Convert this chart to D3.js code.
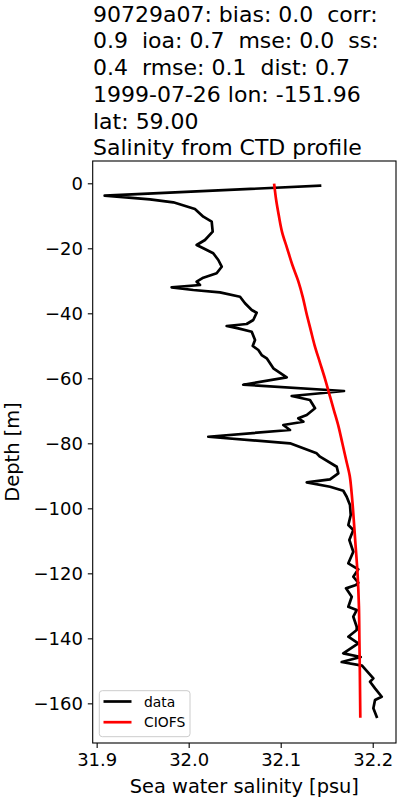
<!DOCTYPE html>
<html>
<head>
<meta charset="utf-8">
<script src="https://cdn.jsdelivr.net/npm/d3@7"></script>
<style>
  html, body { margin: 0; padding: 0; background: #fff; }
  svg { display: block; font-family: "DejaVu Sans", sans-serif; }
  text { white-space: pre; }
</style>
</head>
<body>
<div id="chart"></div>
<script>
// ---- data ----
const titleLines = [
  "90729a07: bias: 0.0  corr:",
  "0.9  ioa: 0.7  mse: 0.0  ss:",
  "0.4  rmse: 0.1  dist: 0.7",
  "1999-07-26 lon: -151.96",
  "lat: 59.00",
  "Salinity from CTD profile"
];
const xTicks = [31.9, 32.0, 32.1, 32.2];
const yTicks = [0, -20, -40, -60, -80, -100, -120, -140, -160];
const seriesNames = ["data", "CIOFS"];
const seriesColors = ["#000000", "#ff0000"];

// observed CTD profile: salinity and depth
const dataSalinity = [
  32.1427, 31.9087, 31.9579, 31.9833, 32.0068, 32.0159, 32.0250, 32.0261, 32.0177, 32.0087,
  32.0159, 32.0267, 32.0322, 32.0359, 32.0304, 32.0159, 32.0087, 32.0123, 31.9815, 32.0050,
  32.0340, 32.0558, 32.0612, 32.0685, 32.0739, 32.0702, 32.0630, 32.0413, 32.0539, 32.0685,
  32.0721, 32.0696, 32.0757, 32.0793, 32.0848, 32.0920, 32.1065, 32.0593, 32.1688, 32.1120,
  32.1318, 32.1373, 32.1283, 32.1191, 32.1246, 32.1028, 32.1101, 32.0213, 32.1101, 32.1391,
  32.1427, 32.1609, 32.1626, 32.1536, 32.1283, 32.1536, 32.1680, 32.1717, 32.1753, 32.1761,
  32.1735, 32.1789, 32.1746, 32.1789, 32.1735, 32.1843, 32.1789, 32.1843, 32.1818, 32.1710,
  32.1772, 32.1735, 32.1826, 32.1789, 32.1826, 32.1826, 32.1735, 32.1843, 32.1680, 32.1870,
  32.1663, 32.1884, 32.2007, 32.1971, 32.2025, 32.2098, 32.2025, 32.2007, 32.2043
];
const dataDepth = [
  -0.74, -3.82, -4.92, -5.85, -7.91, -10.28, -11.82, -14.89, -17.45, -18.98,
  -20.0, -21.54, -23.6, -25.66, -27.69, -29.05, -30.28, -31.29, -32.0, -32.83,
  -33.54, -34.89, -36.92, -38.98, -39.82, -42.06, -43.29, -43.91, -44.62, -45.66,
  -48.22, -50.06, -51.29, -52.83, -53.85, -56.92, -59.69, -61.97, -63.91, -65.45,
  -66.68, -69.23, -71.29, -72.31, -73.35, -74.37, -75.91, -77.97, -80.0, -83.08,
  -84.12, -87.2, -89.23, -91.08, -92.0, -93.35, -94.58, -96.43, -98.98, -102.06,
  -105.14, -106.68, -109.75, -113.35, -116.92, -118.77, -121.05, -122.89, -123.6, -124.62,
  -127.2, -130.28, -131.29, -133.35, -136.43, -137.45, -139.51, -141.54, -144.62, -145.75,
  -147.29, -148.37, -152.31, -153.35, -155.38, -157.97, -158.98, -161.54, -164.12
];

// model (CIOFS) profile
const modelSalinity = [
  32.093, 32.095, 32.098, 32.1015, 32.107, 32.1125, 32.119, 32.124, 32.128, 32.1325,
  32.137, 32.1425, 32.148, 32.153, 32.158, 32.163, 32.167, 32.171, 32.175, 32.177,
  32.1785, 32.181, 32.1835, 32.185, 32.1855, 32.186, 32.1865
];
const modelDepth = [
  -0.5, -5, -10, -15, -20, -25, -30, -35, -40, -45,
  -50, -55, -60, -65, -70, -75, -80, -85, -90, -95,
  -100, -110, -120, -130, -140, -150, -164
];

// ---- chart ----
const W = 400, H = 800;
const m = { left: 92.7, right: 396, top: 161, bottom: 743 };

const svg = d3.select("#chart").append("svg")
  .attr("width", W).attr("height", H);

const x = d3.scaleLinear().domain([31.8957, 32.2253]).range([m.left, m.right]);
const y = d3.scaleLinear().domain([6.86, -172.2]).range([m.top, m.bottom]);

// title
const title = svg.append("text")
  .attr("x", 93).attr("y", 21.7)
  .attr("font-size", 22).attr("fill", "#000");
titleLines.forEach((t, i) => {
  title.append("tspan").attr("x", 93).attr("y", 21.7 + i * 26.7).text(t);
});

// lines
const plot = svg.append("g");
plot.append("defs").append("clipPath").attr("id", "clip")
  .append("rect").attr("x", m.left).attr("y", m.top)
  .attr("width", m.right - m.left).attr("height", m.bottom - m.top);

const line = d3.line().x(d => x(d[0])).y(d => y(d[1]));
const dataPts = dataSalinity.map((s, i) => [s, dataDepth[i]]);
const modelPts = modelSalinity.map((s, i) => [s, modelDepth[i]]);
const modelLine = d3.line().x(d => x(d[0])).y(d => y(d[1])).curve(d3.curveMonotoneY);

plot.append("path").datum(dataPts)
  .attr("d", line).attr("fill", "none")
  .attr("stroke", seriesColors[0]).attr("stroke-width", 2.7)
  .attr("stroke-linejoin", "round").attr("stroke-linecap", "square")
  .attr("clip-path", "url(#clip)");
plot.append("path").datum(modelPts)
  .attr("d", modelLine).attr("fill", "none")
  .attr("stroke", seriesColors[1]).attr("stroke-width", 2.7)
  .attr("stroke-linejoin", "round").attr("stroke-linecap", "square")
  .attr("clip-path", "url(#clip)");

// axes
const xAxis = d3.axisBottom(x).tickValues(xTicks).tickFormat(d3.format(".1f"))
  .tickSize(4.9).tickPadding(4.9);
const yAxis = d3.axisLeft(y).tickValues(yTicks).tickFormat(d3.format("d"))
  .tickSize(4.9).tickPadding(4.9);

const gx = svg.append("g").attr("transform", `translate(0,${m.bottom})`).call(xAxis);
const gy = svg.append("g").attr("transform", `translate(${m.left},0)`).call(yAxis);
[gx, gy].forEach(g => {
  g.select(".domain").remove();
  g.selectAll(".tick line").attr("stroke", "#000").attr("stroke-width", 1.1);
  g.selectAll(".tick text").attr("font-size", 18).attr("fill", "#000")
    .attr("font-family", "DejaVu Sans");
});

// frame
svg.append("rect")
  .attr("x", m.left).attr("y", m.top)
  .attr("width", m.right - m.left).attr("height", m.bottom - m.top)
  .attr("fill", "none").attr("stroke", "#000").attr("stroke-width", 1.1);

// axis labels
svg.append("text")
  .attr("x", (m.left + m.right) / 2).attr("y", 793)
  .attr("text-anchor", "middle").attr("font-size", 19.4).attr("fill", "#000")
  .text("Sea water salinity [psu]");
svg.append("text")
  .attr("transform", `translate(19,${(m.top + m.bottom) / 2}) rotate(-90)`)
  .attr("text-anchor", "middle").attr("font-size", 19.4).attr("fill", "#000")
  .text("Depth [m]");

// legend
const lg = svg.append("g");
lg.append("rect")
  .attr("x", 99.3).attr("y", 690.7).attr("width", 90.7).attr("height", 46)
  .attr("rx", 3).attr("fill", "#fff").attr("fill-opacity", 0.8)
  .attr("stroke", "#cccccc").attr("stroke-width", 1);
seriesNames.forEach((name, i) => {
  const yy = 701.5 + i * 20.7;
  lg.append("line").attr("x1", 103.5).attr("x2", 131.5)
    .attr("y1", yy).attr("y2", yy)
    .attr("stroke", seriesColors[i]).attr("stroke-width", 2.7);
  lg.append("text").attr("x", 144).attr("y", yy + 5)
    .attr("font-size", 13.9).attr("fill", "#000").text(name);
});
</script>
</body>
</html>
